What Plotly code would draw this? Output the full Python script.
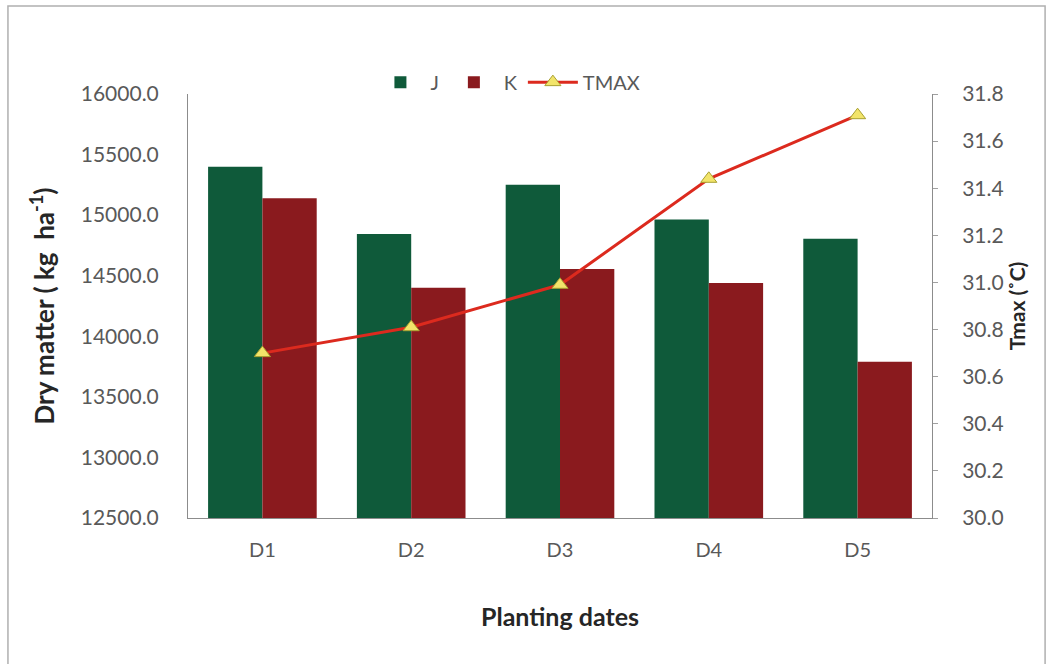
import plotly.graph_objects as go

categories = ["D1", "D2", "D3", "D4", "D5"]
j_values = [15400, 14845, 15250, 14965, 14805]
k_values = [15140, 14400, 14555, 14440, 13790]
tmax_values = [30.70, 30.81, 30.99, 31.44, 31.71]

left_ticks = [12500, 13000, 13500, 14000, 14500, 15000, 15500, 16000]
right_ticks = [30.0, 30.2, 30.4, 30.6, 30.8, 31.0, 31.2, 31.4, 31.6, 31.8]

FONT = "Lato"
TICK_COLOR = "#595959"
TITLE_COLOR = "#262626"

fig = go.Figure()
fig.add_trace(go.Bar(x=categories, y=j_values, name="J",
                     marker=dict(color="#0f5a3a", line=dict(width=0))))
fig.add_trace(go.Bar(x=categories, y=k_values, name="K",
                     marker=dict(color="#8a1a1e", line=dict(width=0))))
fig.add_trace(go.Scatter(x=categories, y=tmax_values, name="TMAX", yaxis="y2",
                         mode="lines+markers",
                         line=dict(color="#dc2a1e", width=3),
                         marker=dict(symbol="triangle-up", size=14, color="#f2e46a",
                                     line=dict(color="#a8a030", width=1))))

fig.update_layout(
    width=1057, height=664,
    margin=dict(l=188, r=125, t=94, b=146),
    paper_bgcolor="white", plot_bgcolor="white",
    font=dict(family=FONT, color=TICK_COLOR, size=20),
    barmode="group", bargap=0.27, bargroupgap=0,
    showlegend=True,
    legend=dict(orientation="h", x=0.43, xanchor="center", y=1.028, yanchor="middle",
                font=dict(size=20, color=TICK_COLOR), bgcolor="rgba(0,0,0,0)",
                itemwidth=50, tracegroupgap=0),
    xaxis=dict(showline=True, linecolor="#8c8c8c", linewidth=1, ticks="",
               ticklabelstandoff=14,
               tickfont=dict(size=20, color=TICK_COLOR), showgrid=False,
               title=dict(text="<b>Planting dates</b>",
                          font=dict(size=25, color=TITLE_COLOR, family=FONT),
                          standoff=48)),
    yaxis=dict(range=[12500, 16000], tickvals=left_ticks,
               ticktext=[f"{v:.1f}" for v in left_ticks],
               showline=True, linecolor="#8c8c8c", linewidth=1, ticks="",
               ticklabelstandoff=24,
               showgrid=False, zeroline=False,
               tickfont=dict(size=21, color=TICK_COLOR),
               title=dict(text="<b>Dry matter ( kg  ha<sup>-1</sup>)</b>",
                          font=dict(size=26, color=TITLE_COLOR, family=FONT), standoff=18)),
    yaxis2=dict(range=[30.0, 31.8], tickvals=right_ticks,
                ticktext=[f"{v:.1f}" for v in right_ticks],
                overlaying="y", side="right",
                showline=True, linecolor="#8c8c8c", linewidth=1,
                ticks="outside", ticklen=5, tickcolor="#a0a0a0",
                ticklabelstandoff=20,
                showgrid=False, zeroline=False,
                tickfont=dict(size=21, color=TICK_COLOR),
                title=dict(text="<b>Tmax (˚C)</b>",
                           font=dict(size=21, color=TITLE_COLOR, family=FONT), standoff=6)),
)

fig.add_shape(type="path", xref="paper", yref="paper",
              path="M -0.242 -0.36 L -0.242 1.2075 L 1.152 1.2075 L 1.152 -0.36",
              line=dict(color="#b0b0b0", width=1.5))

fig.write_html("out.html")
